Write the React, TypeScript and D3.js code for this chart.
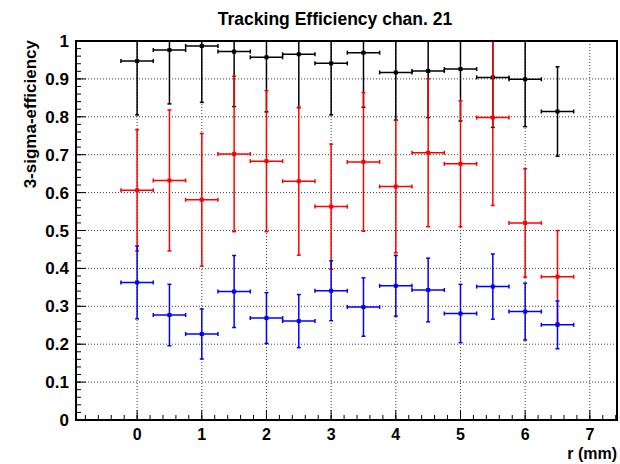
import React from "react";
import * as d3 from "d3";

// Radial bin centres (mm) and half-width of each bin
const rValues = [0, 0.5, 1, 1.5, 2, 2.5, 3, 3.5, 4, 4.5, 5, 5.5, 6, 6.5];
const rHalfWidth = 0.25;

// Efficiency per channel-21 series with symmetric errors
const blackEff = [0.947, 0.976, 0.987, 0.972, 0.957, 0.965, 0.941, 0.969, 0.917, 0.921, 0.926, 0.904, 0.899, 0.814];
const blackErr = [0.142, 0.142, 0.149, 0.145, 0.144, 0.141, 0.136, 0.144, 0.126, 0.123, 0.137, 0.132, 0.125, 0.118];

const redEff = [0.606, 0.632, 0.581, 0.702, 0.683, 0.630, 0.563, 0.681, 0.616, 0.705, 0.676, 0.798, 0.520, 0.378];
const redErr = [0.160, 0.186, 0.175, 0.205, 0.186, 0.195, 0.165, 0.183, 0.175, 0.195, 0.166, 0.232, 0.143, 0.122];

const blueEff = [0.363, 0.277, 0.227, 0.339, 0.269, 0.261, 0.341, 0.298, 0.354, 0.343, 0.281, 0.352, 0.286, 0.251];
const blueErr = [0.096, 0.081, 0.066, 0.095, 0.067, 0.070, 0.079, 0.077, 0.080, 0.084, 0.077, 0.086, 0.075, 0.063];

const xTicks = [0, 1, 2, 3, 4, 5, 6, 7];
const yTicks = [0, 0.1, 0.2, 0.3, 0.4, 0.5, 0.6, 0.7, 0.8, 0.9, 1];

const titleText = "Tracking Efficiency chan. 21";
const xTitle = "r (mm)";
const yTitle = "3-sigma-efficiency";

const W = 620;
const H = 464;
const frame = { left: 76, right: 617, top: 41, bottom: 420 };

const x = d3.scaleLinear().domain([-0.945, 7.42]).range([frame.left, frame.right]);
const y = d3.scaleLinear().domain([0, 1]).range([frame.bottom, frame.top]);

const font = "'Liberation Sans', Arial, Helvetica, sans-serif";

type Series = { eff: number[]; err: number[]; color: string };
const series: Series[] = [
  { eff: blackEff, err: blackErr, color: "#000000" },
  { eff: redEff, err: redErr, color: "#ff0000" },
  { eff: blueEff, err: blueErr, color: "#0000ff" },
];

function ErrorSeries({ s, id }: { s: Series; id: string }) {
  const cap = 2;
  return (
    <g clipPath="url(#plotClip)" stroke={s.color} strokeWidth={1.5} fill="none">
      {rValues.map((r, i) => {
        const cx = x(r);
        const cy = y(s.eff[i]);
        const x0 = x(r - rHalfWidth);
        const x1 = x(r + rHalfWidth);
        const yHi = y(s.eff[i] + s.err[i]);
        const yLo = y(s.eff[i] - s.err[i]);
        return (
          <g key={id + i}>
            <line x1={x0} x2={x1} y1={cy} y2={cy} />
            <line x1={x0} x2={x0} y1={cy - cap} y2={cy + cap} />
            <line x1={x1} x2={x1} y1={cy - cap} y2={cy + cap} />
            <line x1={cx} x2={cx} y1={yHi} y2={yLo} />
            <line x1={cx - cap} x2={cx + cap} y1={yHi} y2={yHi} />
            <line x1={cx - cap} x2={cx + cap} y1={yLo} y2={yLo} />
            <rect x={cx - 2} y={cy - 2} width={4} height={4} fill={s.color} stroke="none" />
          </g>
        );
      })}
    </g>
  );
}

export default function App() {
  const xMinor = d3.range(-0.8, 7.41, 0.2).map((v) => Math.round(v * 10) / 10);
  const yMinor = d3.range(0, 1.001, 0.02).map((v) => Math.round(v * 100) / 100);

  return (
    <svg width={W} height={H} style={{ position: "absolute", left: 0, top: 0, background: "#fff" }}>
      <defs>
        <clipPath id="plotClip">
          <rect x={frame.left} y={frame.top} width={frame.right - frame.left} height={frame.bottom - frame.top} />
        </clipPath>
      </defs>
      <rect x={0} y={0} width={W} height={H} fill="#fff" />

      {/* grid */}
      <g stroke="#000" strokeWidth={1} strokeDasharray="1,2" opacity={0.75}>
        {xTicks.map((t) => (
          <line key={"gx" + t} x1={x(t)} x2={x(t)} y1={frame.top} y2={frame.bottom} />
        ))}
        {yTicks.slice(1, -1).map((t) => (
          <line key={"gy" + t} x1={frame.left} x2={frame.right} y1={y(t)} y2={y(t)} />
        ))}
      </g>

      {/* ticks */}
      <g stroke="#000" strokeWidth={1}>
        {xMinor.map((t) => (
          <line key={"xm" + t} x1={x(t)} x2={x(t)} y1={frame.bottom} y2={frame.bottom - 5} />
        ))}
        {xTicks.map((t) => (
          <line key={"xM" + t} x1={x(t)} x2={x(t)} y1={frame.bottom} y2={frame.bottom - 10} />
        ))}
        {yMinor.map((t) => (
          <line key={"ym" + t} x1={frame.left} x2={frame.left + 5} y1={y(t)} y2={y(t)} />
        ))}
        {yTicks.map((t) => (
          <line key={"yM" + t} x1={frame.left} x2={frame.left + 10} y1={y(t)} y2={y(t)} />
        ))}
      </g>

      {series.map((s, k) => (
        <ErrorSeries key={k} s={s} id={"s" + k} />
      ))}

      {/* frame */}
      <rect
        x={frame.left}
        y={frame.top}
        width={frame.right - frame.left}
        height={frame.bottom - frame.top}
        fill="none"
        stroke="#000"
        strokeWidth={2}
      />

      {/* tick labels */}
      <g fontFamily={font} fontWeight="bold" fontSize={17} fill="#000">
        {xTicks.map((t) => (
          <text key={"xl" + t} x={x(t)} y={440} fontSize={16} textAnchor="middle">
            {t}
          </text>
        ))}
        {yTicks.map((t) => (
          <text key={"yl" + t} x={69} y={y(t) + 6} textAnchor="end">
            {d3.format("")(t)}
          </text>
        ))}
      </g>

      <text x={335} y={25} textAnchor="middle" fontFamily={font} fontWeight="bold" fontSize={17.5}>
        {titleText}
      </text>
      <text x={617} y={459} textAnchor="end" fontFamily={font} fontWeight="bold" fontSize={16}>
        {xTitle}
      </text>
      <text
        transform={`translate(36, ${frame.top - 1}) rotate(-90)`}
        textAnchor="end"
        fontFamily={font}
        fontWeight="bold"
        fontSize={17}
      >
        {yTitle}
      </text>
    </svg>
  );
}
